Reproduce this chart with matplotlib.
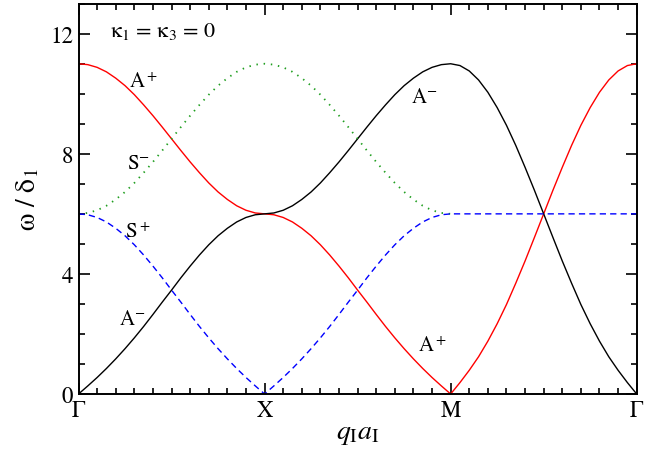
import numpy as np
import matplotlib.pyplot as plt
from matplotlib.ticker import MultipleLocator

plt.rcParams['font.family'] = ['STIXGeneral', 'DejaVu Serif']
plt.rcParams['mathtext.fontset'] = 'stix'

# values, one sample every 0.05 of a path segment
# cosine-like branch going 6 -> 11 (S- on Gamma-X, A- on X-M)
cos_up = [6.0, 6.03, 6.12, 6.27, 6.48, 6.73, 7.03, 7.37, 7.73, 8.11, 8.5,
          8.89, 9.27, 9.63, 9.97, 10.27, 10.52, 10.73, 10.88, 10.97, 11.0]
# acoustic-like branch going 0 -> 6 (A- on Gamma-X, S+ on X-M)
low_up = [0.0, 0.27, 0.55, 0.85, 1.17, 1.51, 1.87, 2.25, 2.65, 3.06, 3.46,
          3.87, 4.26, 4.63, 4.97, 5.27, 5.52, 5.73, 5.88, 5.97, 6.0]
# branch going 0 -> 11 along M-Gamma (A+)
diag_up = [0.0, 0.38, 0.79, 1.24, 1.76, 2.34, 2.98, 3.69, 4.43, 5.21, 6.0,
           6.79, 7.55, 8.28, 8.95, 9.54, 10.05, 10.46, 10.76, 10.94, 11.0]
flat_s = [6.0] * 21

tick_pos = [0, 1, 2, 3]
tick_lab = [r'$\Gamma$', 'X', 'M', r'$\Gamma$']

seg = np.linspace(0, 1, 21)
q1, q2, q3 = seg, seg + 1, seg + 2

def rev(a):
    return a[::-1]

fig = plt.figure(figsize=(6.7, 4.52), dpi=100)
ax = fig.add_axes([0.1172, 0.1261, 0.8331, 0.8635])

lw = 1.0
# A+ (red)
ax.plot(np.concatenate([q1, q2, q3]),
        np.concatenate([rev(cos_up), rev(low_up), diag_up]),
        color='#ff0000', lw=lw)
# A- (black)
ax.plot(np.concatenate([q1, q2, q3]),
        np.concatenate([low_up, cos_up, rev(diag_up)]),
        color='black', lw=lw)
# S- (green dotted)
ax.plot(np.concatenate([q1, q2]),
        np.concatenate([cos_up, rev(cos_up)]),
        color='#1f9e1f', lw=1.3, dashes=(0.8, 3.2))
# S+ (blue dashed)
ax.plot(np.concatenate([q1, q2, q3]),
        np.concatenate([rev(low_up), low_up, flat_s]),
        color='#0000ff', lw=lw, dashes=(4.5, 3))

ax.set_xlim(0, 3)
ax.set_ylim(0, 13)
ax.set_xticks(tick_pos)
ax.set_xticklabels(tick_lab)
ax.xaxis.set_minor_locator(MultipleLocator(0.1))
ax.set_yticks([0, 4, 8, 12])
ax.yaxis.set_minor_locator(MultipleLocator(1))
ax.tick_params(which='both', direction='in', top=True, right=True,
               labelsize=16.5, width=1.2, pad=4)
ax.tick_params(which='major', length=8)
ax.tick_params(which='minor', length=4.5)
for s in ax.spines.values():
    s.set_linewidth(1.4)

ax.set_xlabel(r'$q_{\mathrm{I}}a_{\mathrm{I}}$', fontsize=20, labelpad=0)
ax.set_ylabel('ω / δ$_1$', fontsize=20, labelpad=6)

fs = 15
ax.text(0.17, 12.1, 'κ$_1$ = κ$_3$ = 0', fontsize=16, va='center')
ax.text(0.35, 10.4, r'A$^+$', fontsize=fs, ha='center', va='center')
ax.text(0.32, 7.7, r'S$^{-}$', fontsize=fs, ha='center', va='center')
ax.text(0.32, 5.4, r'S$^+$', fontsize=fs, ha='center', va='center')
ax.text(0.29, 2.5, r'A$^{-}$', fontsize=fs, ha='center', va='center')
ax.text(1.86, 9.9, r'A$^{-}$', fontsize=fs, ha='center', va='center')
ax.text(1.90, 1.6, r'A$^+$', fontsize=fs, ha='center', va='center')

fig.savefig('out.png', dpi=100)
